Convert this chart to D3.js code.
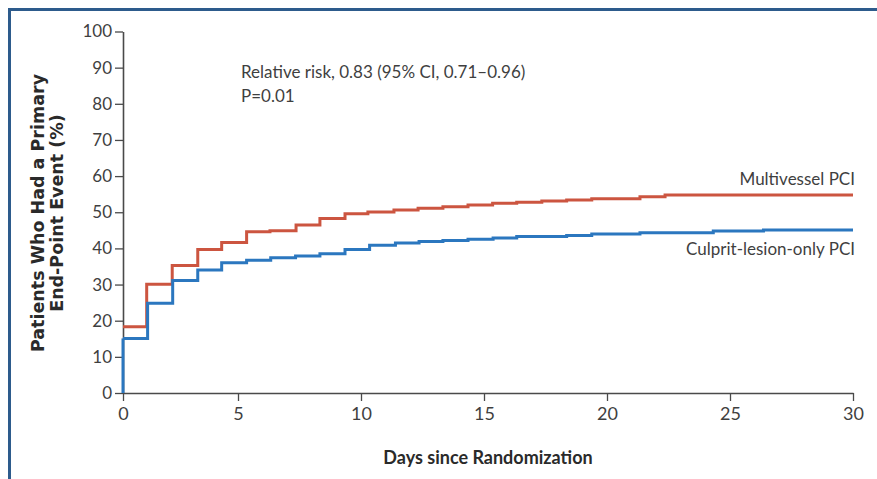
<!DOCTYPE html>
<html>
<head>
<meta charset="utf-8">
<script src="https://cdn.jsdelivr.net/npm/d3@7"></script>
<style>
  body { margin: 0; background: #fff; }
  svg { display: block; }
</style>
</head>
<body>
<div id="km-chart"></div>
<script>
// data (days since randomization, cumulative %)
const multiDays   = [0, 1.03, 2.14, 3.25, 4.29, 5.35, 6.3, 7.36, 8.33, 9.35, 10.28, 11.34, 12.32, 13.33, 14.35, 15.35, 16.33, 17.35, 18.36, 19.38, 21.34, 22.36, 30];
const multiValues = [18.3, 30.1, 35.3, 39.7, 41.6, 44.6, 44.9, 46.5, 48.3, 49.6, 50.1, 50.6, 51.1, 51.5, 52.0, 52.5, 52.8, 53.1, 53.4, 53.7, 54.3, 54.8, 54.8];

const culpritDays   = [0, 1.07, 2.16, 3.25, 4.29, 5.35, 6.33, 7.34, 8.33, 9.35, 10.35, 11.4, 12.36, 13.33, 14.35, 15.37, 16.33, 18.36, 19.38, 21.34, 24.32, 26.36, 30];
const culpritValues = [15.1, 24.8, 31.1, 34.0, 36.0, 36.7, 37.4, 37.9, 38.5, 39.7, 40.9, 41.5, 41.9, 42.2, 42.5, 42.9, 43.3, 43.6, 44.0, 44.3, 44.8, 45.1, 45.1];

const xTicks = [0, 5, 10, 15, 20, 25, 30];
const yTicks = [0, 10, 20, 30, 40, 50, 60, 70, 80, 90, 100];

const width = 877, height = 479;
const bodyFont = "Lato, 'Open Sans', sans-serif";

const svg = d3.select("#km-chart")
  .append("svg")
  .attr("width", width)
  .attr("height", height);

// blue frame (top and left edges only)
svg.append("path")
  .attr("d", "M9.5,480 L9.5,9.5 L877,9.5")
  .attr("fill", "none")
  .attr("stroke", "#2d5b8c")
  .attr("stroke-width", 3);

// scales
const xScale = d3.scaleLinear()
  .domain([0, 5, 30])
  .range([123, 238, 853]);

const yScale = d3.scaleLinear()
  .domain([0, 100])
  .range([393, 31.5]);

// x-axis
const xAxis = svg.append("g")
  .attr("transform", "translate(0,393)")
  .call(d3.axisBottom(xScale).tickValues(xTicks).tickSize(8).tickPadding(6).tickSizeOuter(0));

// y-axis
const yAxis = svg.append("g")
  .attr("transform", "translate(123,0)")
  .call(d3.axisLeft(yScale).tickValues(yTicks).tickSize(8).tickPadding(3).tickSizeOuter(0));

[xAxis, yAxis].forEach(ax => {
  ax.select(".domain").attr("stroke", "#4a4a4a").attr("stroke-width", 1.6);
  ax.selectAll(".tick line").attr("stroke", "#4a4a4a").attr("stroke-width", 1.3);
  ax.selectAll(".tick text")
    .attr("fill", "#3f3f3f")
    .style("font-family", bodyFont)
    .style("font-size", "17px");
});
xAxis.selectAll(".tick text").style("font-size", "18px");

// step curves
const line = d3.line()
  .x(d => xScale(d[0]))
  .y(d => yScale(d[1]))
  .curve(d3.curveStepAfter);

const series = [
  { name: "Multivessel PCI", days: multiDays, values: multiValues, color: "#cc5540" },
  { name: "Culprit-lesion-only PCI", days: culpritDays, values: culpritValues, color: "#2b77bf" }
];

// blue curve starts on the x-axis at day 0
svg.append("path")
  .attr("d", line([[0, 0], [0, culpritValues[0]]]))
  .attr("fill", "none")
  .attr("stroke", "#2b77bf")
  .attr("stroke-width", 3);

series.forEach(s => {
  const pts = s.days.map((d, i) => [d, s.values[i]]);
  svg.append("path")
    .datum(pts)
    .attr("d", line)
    .attr("fill", "none")
    .attr("stroke", s.color)
    .attr("stroke-width", 3);
});

// series labels
svg.append("text")
  .attr("x", 855).attr("y", 185)
  .attr("text-anchor", "end")
  .attr("fill", "#3f3f3f")
  .style("font-family", bodyFont)
  .style("font-size", "17px")
  .text("Multivessel PCI");

svg.append("text")
  .attr("x", 855).attr("y", 255)
  .attr("text-anchor", "end")
  .attr("fill", "#3f3f3f")
  .style("font-family", bodyFont)
  .style("font-size", "17px")
  .text("Culprit-lesion-only PCI");

// annotation
svg.append("text")
  .attr("x", 241).attr("y", 78)
  .attr("fill", "#3f3f3f")
  .style("font-family", bodyFont)
  .style("font-size", "17px")
  .text("Relative risk, 0.83 (95% CI, 0.71\u20130.96)");

svg.append("text")
  .attr("x", 241).attr("y", 102)
  .attr("fill", "#3f3f3f")
  .style("font-family", bodyFont)
  .style("font-size", "17px")
  .text("P=0.01");

// axis titles
svg.append("text")
  .attr("x", 488).attr("y", 464)
  .attr("text-anchor", "middle")
  .attr("fill", "#2a2a2a")
  .style("font-family", bodyFont)
  .style("font-size", "18px")
  .style("font-weight", "bold")
  .text("Days since Randomization");

const yTitle = svg.append("text")
  .attr("transform", "translate(44,213) rotate(-90)")
  .attr("text-anchor", "middle")
  .attr("fill", "#2a2a2a")
  .style("font-family", "'DejaVu Sans', sans-serif")
  .style("font-size", "17.5px")
  .style("font-weight", "bold");

yTitle.append("tspan").attr("x", 0).attr("dy", 0).text("Patients Who Had a Primary");
yTitle.append("tspan").attr("x", 0).attr("dy", 19).text("End-Point Event (%)");
</script>
</body>
</html>
